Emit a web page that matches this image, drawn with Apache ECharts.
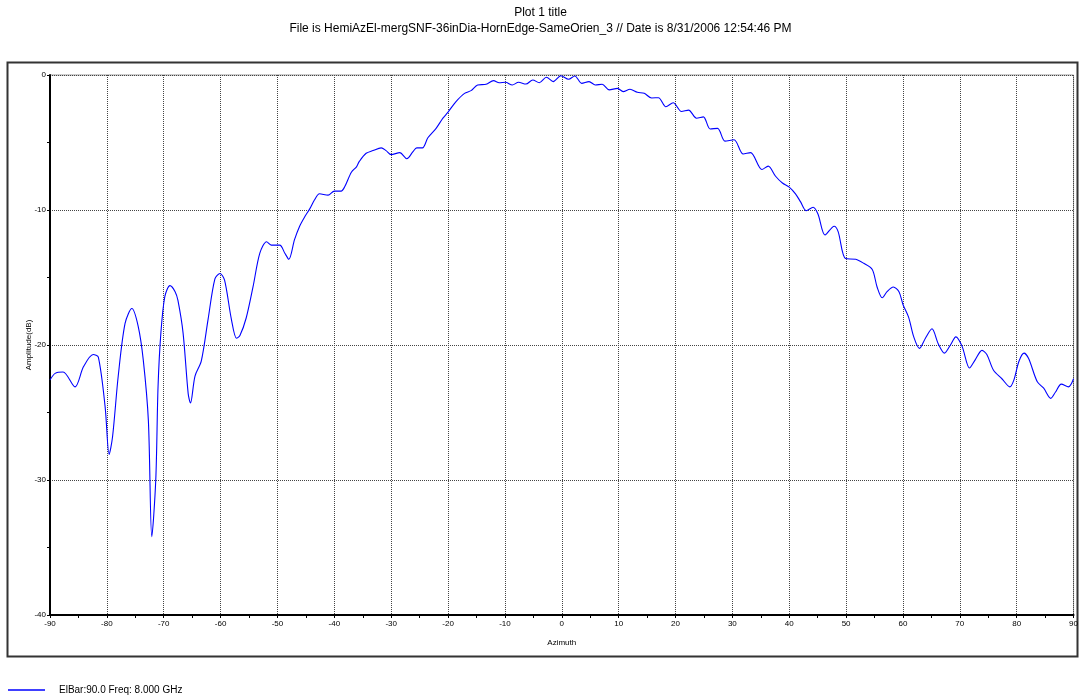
<!DOCTYPE html>
<html>
<head>
<meta charset="utf-8">
<script src="https://cdn.jsdelivr.net/npm/echarts@6/dist/echarts.min.js"></script>
<style>html,body{margin:0;padding:0;background:#fff}#c{width:1081px;height:700px}</style>
</head>
<body>
<div id="c"></div>
<script>
var titleText = "Plot 1 title";
var subtitleText = "File is HemiAzEl-mergSNF-36inDia-HornEdge-SameOrien_3 // Date is 8/31/2006 12:54:46 PM";
var seriesName = "ElBar:90.0 Freq: 8.000 GHz";
var xAxisName = "Azimuth";
var yAxisName = "Amplitude(dB)";

var azimuth = [-90,-89.1,-87.7,-85.6,-84.1,-82.4,-81.5,-80.3,-79.6,-79.0,-78.0,-76.8,-75.6,-74.5,-73.6,-72.7,-72.1,-71.4,-71.0,-70.5,-69.8,-68.9,-68.0,-67.5,-66.6,-65.7,-65.3,-64.5,-63.4,-62.2,-61.0,-60.1,-59.3,-58.1,-57.2,-56.6,-55.5,-54.3,-53.1,-51.9,-51.1,-49.6,-48.7,-48.0,-47.0,-46.1,-45.2,-44.3,-43.5,-42.6,-41.1,-40.0,-38.8,-38.2,-37.0,-36.1,-35.6,-34.4,-33.2,-31.75,-30.9,-30.0,-28.5,-27.25,-26.2,-25.5,-24.5,-23.55,-22.1,-20.9,-20.0,-18.6,-17.1,-15.95,-14.8,-13.3,-12.0,-11.0,-9.9,-8.7,-7.6,-6.3,-5.1,-3.95,-2.7,-1.5,-0.15,1.2,2.3,3.5,4.8,5.9,7.1,8.35,9.8,10.8,12.0,13.3,14.5,15.8,17.0,18.3,19.6,21.05,22.3,23.7,24.9,26.1,27.4,28.7,30.3,31.9,33.2,35.2,36.3,37.6,38.8,40.0,41.1,42.0,43.0,44.2,45.05,46.3,47.9,48.6,49.9,51.7,53.1,54.6,55.45,56.35,57.2,58.3,59.3,60.0,61.0,61.9,62.9,63.95,65.1,66.2,67.3,68.35,69.3,70.4,71.7,72.7,73.9,74.75,75.9,77.4,78.8,79.5,80.4,81.3,82.1,83.6,84.75,86.0,86.8,87.85,89.1,90.0];
var amplitude = [-22.6,-22.1,-22.0,-23.1,-21.6,-20.7,-20.9,-24.6,-28.1,-26.8,-22.3,-18.4,-17.3,-18.6,-21.1,-25.6,-34.2,-30.0,-23.1,-19.1,-16.4,-15.6,-16.05,-16.7,-19.1,-23.6,-24.3,-22.3,-21.2,-18.1,-15.1,-14.7,-15.2,-18.1,-19.5,-19.3,-18.0,-15.7,-13.2,-12.35,-12.6,-12.6,-13.2,-13.65,-12.2,-11.2,-10.5,-9.9,-9.26,-8.8,-8.9,-8.6,-8.6,-8.3,-7.2,-6.8,-6.4,-5.8,-5.6,-5.4,-5.6,-5.9,-5.75,-6.2,-5.7,-5.4,-5.4,-4.65,-3.95,-3.2,-2.75,-1.97,-1.36,-1.16,-0.74,-0.69,-0.42,-0.57,-0.54,-0.74,-0.54,-0.67,-0.37,-0.57,-0.17,-0.49,-0.05,-0.32,-0.07,-0.62,-0.49,-0.74,-0.69,-1.1,-0.99,-1.23,-1.06,-1.28,-1.36,-1.7,-1.68,-2.35,-2.05,-2.7,-2.6,-3.2,-3.1,-4.0,-3.95,-4.9,-4.8,-5.85,-5.75,-7.0,-6.75,-7.5,-8.0,-8.3,-8.8,-9.4,-10.05,-9.8,-10.3,-11.85,-11.2,-11.6,-13.6,-13.65,-13.95,-14.4,-15.7,-16.5,-16.05,-15.7,-16.05,-17.0,-17.95,-19.4,-20.25,-19.5,-18.8,-19.9,-20.6,-20.0,-19.4,-20.1,-21.7,-21.1,-20.4,-20.7,-21.85,-22.5,-23.1,-22.6,-21.2,-20.6,-21.0,-22.7,-23.2,-23.95,-23.5,-22.9,-23.1,-22.5];

var xTicks = {min: -90, max: 90, interval: 10};
var yTicks = {min: -40, max: 0, interval: 10};

var pts = azimuth.map(function (a, i) { return [a, amplitude[i]]; });
var FONT = "'Liberation Sans', Arial, sans-serif";

var chart = echarts.init(document.getElementById('c'), null, {renderer: 'canvas'});
chart.setOption({
  animation: false,
  backgroundColor: '#fff',
  title: [{
    text: titleText,
    subtext: subtitleText,
    left: 'center',
    top: 2,
    itemGap: 4,
    textStyle: {fontFamily: FONT, fontSize: 12, fontWeight: 'normal', color: '#000'},
    subtextStyle: {fontFamily: FONT, fontSize: 12, color: '#000'}
  }],
  graphic: [{
    type: 'rect',
    shape: {x: 7.5, y: 62.5, width: 1070, height: 594},
    style: {fill: 'none', stroke: '#333', lineWidth: 2},
    silent: true
  }],
  legend: {
    show: true,
    left: 8,
    top: 685,
    padding: 0,
    icon: 'rect',
    itemWidth: 37,
    itemHeight: 1.3,
    itemGap: 10,
    itemStyle: {color: '#0000ff'},
    textStyle: {fontFamily: FONT, fontSize: 10, color: '#000', padding: [0, 0, 0, 9]},
    data: [seriesName]
  },
  grid: {
    left: 50, right: 6, top: 75, bottom: 85,
    show: true, borderColor: '#999', borderWidth: 1, backgroundColor: 'transparent'
  },
  xAxis: {
    type: 'value',
    min: xTicks.min, max: xTicks.max, interval: xTicks.interval,
    name: xAxisName,
    nameLocation: 'middle',
    nameGap: 24,
    nameTextStyle: {fontFamily: FONT, fontSize: 8, color: '#000'},
    axisLine: {show: true, onZero: false, lineStyle: {color: '#000', width: 2}},
    axisTick: {show: true, inside: false, length: 3, lineStyle: {color: '#000'}},
    minorTick: {show: true, splitNumber: 2, length: 3, lineStyle: {color: '#000'}},
    axisLabel: {fontFamily: FONT, fontSize: 8, color: '#000', margin: 5},
    splitLine: {show: true, lineStyle: {color: '#444', type: [1, 1], width: 1}}
  },
  yAxis: {
    type: 'value',
    min: yTicks.min, max: yTicks.max, interval: yTicks.interval,
    name: yAxisName,
    nameLocation: 'middle',
    nameGap: 17,
    nameMoveOverlap: false,
    nameTextStyle: {fontFamily: FONT, fontSize: 8, color: '#000'},
    axisLine: {show: true, onZero: false, lineStyle: {color: '#000', width: 2}},
    axisTick: {show: true, inside: false, length: 3, lineStyle: {color: '#000'}},
    minorTick: {show: true, splitNumber: 2, length: 3, lineStyle: {color: '#000'}},
    axisLabel: {fontFamily: FONT, fontSize: 8, color: '#000', margin: 4},
    splitLine: {show: true, lineStyle: {color: '#444', type: [1, 1], width: 1}}
  },
  series: [{
    name: seriesName,
    type: 'line',
    data: pts,
    symbol: 'none',
    showSymbol: false,
    smooth: 0.3,
    lineStyle: {color: '#0000ff', width: 1.1},
    itemStyle: {color: '#0000ff'}
  }]
});
</script>
</body>
</html>
